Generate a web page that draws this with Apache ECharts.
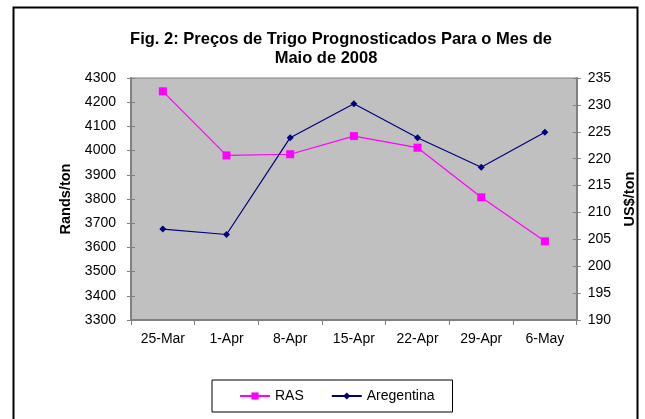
<!DOCTYPE html>
<html><head><meta charset="utf-8">
<script src="https://cdn.jsdelivr.net/npm/echarts@6/dist/echarts.min.js"></script>
<style>html,body{margin:0;padding:0;background:#fff}#c{width:645px;height:419px}</style>
</head><body><div id="c"></div>
<script>
const categories = ['25-Mar','1-Apr','8-Apr','15-Apr','22-Apr','29-Apr','6-May'];
const ras = [4245, 3980, 3985, 4060, 4012, 3807, 3625];
const argentina = [206.9, 205.9, 223.9, 230.2, 223.9, 218.4, 224.9];
const titleLine1 = 'Fig. 2: Preços de Trigo Prognosticados Para o Mes de';
const titleLine2 = 'Maio de 2008';

const chart = echarts.init(document.getElementById('c'));
const font = 'Arial, "Liberation Sans", sans-serif';
const axisGray = '#808080';
const titleStyle = {fontFamily: font, fontSize: 16.5, fontWeight: 'bold', color: '#000'};
function innerTicks(min, max, interval, pos) {
  return {
    type: 'value', min: min, max: max, interval: interval, position: pos,
    axisLine: {show: false}, axisLabel: {show: false}, splitLine: {show: false},
    axisTick: {show: true, inside: true, length: 4, lineStyle: {color: axisGray}}
  };
}
chart.setOption({
  animation: false,
  backgroundColor: '#fff',
  title: [
    {text: titleLine1, left: 341, top: 31, textAlign: 'center', padding: 0, textStyle: titleStyle},
    {text: titleLine2, left: 326, top: 50, textAlign: 'center', padding: 0, textStyle: titleStyle}
  ],
  graphic: [
    {type: 'rect', shape: {x: 13.5, y: 7.5, width: 624, height: 430}, style: {fill: null, stroke: '#000', lineWidth: 2}, silent: true, z: 100}
  ],
  grid: {left: 131, right: 68, top: 78, bottom: 99, show: true, backgroundColor: '#c0c0c0', borderColor: axisGray, borderWidth: 1},
  legend: {
    data: ['RAS', 'Aregentina'],
    left: 212, top: 380, width: 241, height: 33,
    padding: [9, 18, 9, 27], itemGap: 27, itemWidth: 30, itemHeight: 9,
    borderColor: '#000', borderWidth: 1,
    textStyle: {fontFamily: font, fontSize: 14, color: '#000'}
  },
  xAxis: {
    type: 'category', data: categories, boundaryGap: true,
    axisLine: {lineStyle: {color: axisGray, width: 2}},
    axisTick: {show: true, inside: false, length: 5, lineStyle: {color: axisGray}},
    axisLabel: {fontFamily: font, fontSize: 14, color: '#000', margin: 12},
    splitLine: {show: false}
  },
  yAxis: [
    {
      type: 'value', min: 3300, max: 4300, interval: 100, position: 'left',
      name: 'Rands/ton', nameLocation: 'middle', nameGap: 56,
      nameTextStyle: {fontFamily: font, fontSize: 14.5, fontWeight: 'bold', color: '#000'},
      axisLine: {show: true, lineStyle: {color: axisGray, width: 2}},
      axisTick: {show: true, length: 4, lineStyle: {color: axisGray}},
      axisLabel: {fontFamily: font, fontSize: 14, color: '#000', margin: 15, formatter: v => String(v)},
      splitLine: {show: false}
    },
    {
      type: 'value', min: 190, max: 235, interval: 5, position: 'right',
      name: 'US$/ton', nameLocation: 'middle', nameGap: 45, nameRotate: 90,
      nameTextStyle: {fontFamily: font, fontSize: 14.5, fontWeight: 'bold', color: '#000'},
      axisLine: {show: true, lineStyle: {color: axisGray, width: 2}},
      axisTick: {show: true, length: 4, lineStyle: {color: axisGray}},
      axisLabel: {fontFamily: font, fontSize: 14, color: '#000', margin: 11},
      splitLine: {show: false}
    },
    innerTicks(3300, 4300, 100, 'left'),
    innerTicks(190, 235, 5, 'right')
  ],
  series: [
    {
      name: 'RAS', type: 'line', yAxisIndex: 0, data: ras,
      symbol: 'rect', symbolSize: 8,
      lineStyle: {color: '#ff00ff', width: 1.2}, itemStyle: {color: '#ff00ff'}
    },
    {
      name: 'Aregentina', type: 'line', yAxisIndex: 1, data: argentina,
      symbol: 'diamond', symbolSize: 7,
      lineStyle: {color: '#000080', width: 1.2}, itemStyle: {color: '#000080'}
    }
  ]
});
</script></body></html>
